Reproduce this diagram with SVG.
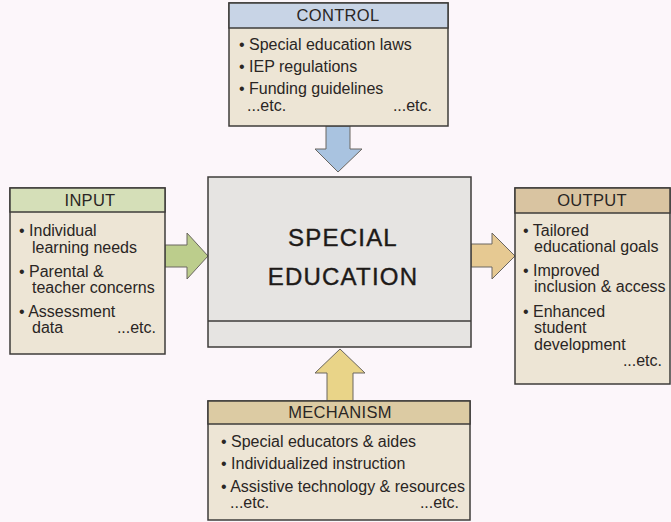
<svg xmlns="http://www.w3.org/2000/svg" width="671" height="522" viewBox="0 0 671 522">
<style>
.box{stroke:#3e3c3a;stroke-width:1.5}
.body{fill:#ede5d5}
.t{font-family:"Liberation Sans",Arial,sans-serif;font-size:16px;fill:#2a2624}
.h{font-family:"Liberation Sans",Arial,sans-serif;font-size:16.5px;fill:#2a2624;text-anchor:middle;letter-spacing:0.3px}
.big{font-family:"Liberation Sans",Arial,sans-serif;font-size:24px;fill:#1e1a18;stroke:#1e1a18;stroke-width:0.4;text-anchor:middle;letter-spacing:1.2px}
.arr{stroke:#6a6660;stroke-width:1}
</style>
<rect width="671" height="522" fill="#fcf6fa"/>
<g id="connectors">
<polygon class="arr" fill="#a9c3e0" points="326,126 350,126 350,149 362,149 338,172 315,149 326,149"/>
<polygon class="arr" fill="#bccd8c" points="165,245 187,245 187,233 208,256 187,279 187,267 165,267"/>
<polygon class="arr" fill="#e6c992" points="471,244 492,244 492,233 515,256 492,279 492,267 471,267"/>
<polygon class="arr" fill="#e9d488" points="327,401 327,373 315,373 340,349 365,373 353,373 353,401"/>
</g>
<g id="control">
<rect class="box body" x="229" y="3" width="219" height="123"/>
<rect class="box" fill="#c8d4e6" x="229" y="3" width="219" height="25"/>
<text class="h" x="338" y="21">CONTROL</text>
<text class="t" x="239" y="50">• Special education laws</text>
<text class="t" x="239" y="72">• IEP regulations</text>
<text class="t" x="239" y="94">• Funding guidelines</text>
<text class="t" x="247" y="111">...etc.</text>
<text class="t" x="432" y="111" text-anchor="end">...etc.</text>
</g>
<g id="input">
<rect class="box body" x="10" y="188" width="155" height="166"/>
<rect class="box" fill="#d5dfb8" x="10" y="188" width="155" height="24"/>
<text class="h" x="90" y="206">INPUT</text>
<text class="t" x="19" y="236">• Individual</text>
<text class="t" x="32" y="253">learning needs</text>
<text class="t" x="19" y="277">• Parental &amp;</text>
<text class="t" x="32" y="293">teacher concerns</text>
<text class="t" x="19" y="317">• Assessment</text>
<text class="t" x="32" y="333">data</text>
<text class="t" x="156" y="333" text-anchor="end">...etc.</text>
</g>
<g id="special-education">
<rect class="box" fill="#e6e4e2" x="208" y="177" width="263" height="170"/>
<line class="box" x1="208" y1="321" x2="471" y2="321"/>
<text class="big" x="343" y="246">SPECIAL</text>
<text class="big" x="343" y="285">EDUCATION</text>
</g>
<g id="output">
<rect class="box body" x="515" y="188" width="155" height="196"/>
<rect class="box" fill="#d9c4a1" x="515" y="188" width="155" height="25"/>
<text class="h" x="592" y="206">OUTPUT</text>
<text class="t" x="523" y="236">• Tailored</text>
<text class="t" x="534" y="252">educational goals</text>
<text class="t" x="523" y="276">• Improved</text>
<text class="t" x="534" y="292">inclusion &amp; access</text>
<text class="t" x="523" y="317">• Enhanced</text>
<text class="t" x="534" y="333">student</text>
<text class="t" x="534" y="350">development</text>
<text class="t" x="662" y="366" text-anchor="end">...etc.</text>
</g>
<g id="mechanism">
<rect class="box body" x="208" y="401" width="262" height="119"/>
<rect class="box" fill="#dccba3" x="208" y="401" width="262" height="23"/>
<text class="h" x="340" y="418">MECHANISM</text>
<text class="t" x="221" y="447">• Special educators &amp; aides</text>
<text class="t" x="221" y="469">• Individualized instruction</text>
<text class="t" x="221" y="492">• Assistive technology &amp; resources</text>
<text class="t" x="230" y="508">...etc.</text>
<text class="t" x="459" y="508" text-anchor="end">...etc.</text>
</g>
</svg>
